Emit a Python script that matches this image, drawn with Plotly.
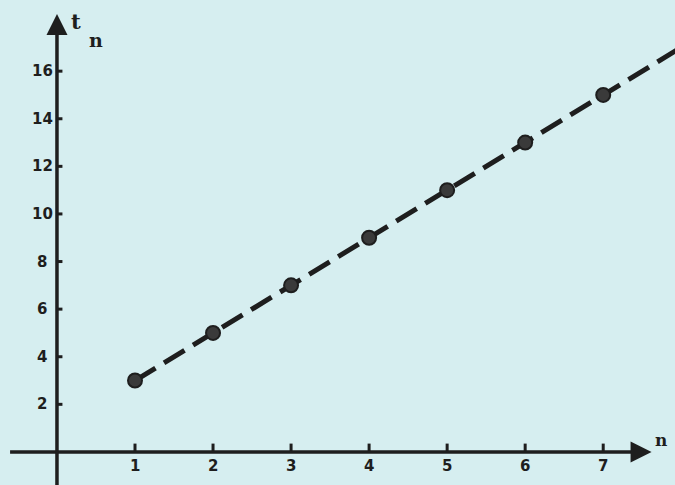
import plotly.graph_objects as go

n_values = [1, 2, 3, 4, 5, 6, 7]
t_values = [3, 5, 7, 9, 11, 13, 15]
x_ticks = [1, 2, 3, 4, 5, 6, 7]
y_ticks = [2, 4, 6, 8, 10, 12, 14, 16]
line_n = [1, 8]
line_t = [3, 17]

ink = "#1e1e1e"
bg = "#d6eef0"

fig = go.Figure()

fig.add_trace(go.Scatter(x=line_n, y=line_t, mode="lines",
                         line=dict(color=ink, width=5, dash="24px,10px"),
                         hoverinfo="skip", showlegend=False))
fig.add_trace(go.Scatter(x=n_values, y=t_values, mode="markers",
                         marker=dict(size=14, color="#3a3a3a",
                                     line=dict(color=ink, width=2)),
                         showlegend=False))

shapes = []
annotations = []
annotations.append(dict(x=7.62, y=0, ax=-0.62, ay=0, xref="x", yref="y",
                        axref="x", ayref="y", showarrow=True, arrowhead=2,
                        arrowsize=1.2, arrowwidth=3.5, arrowcolor=ink, text=""))
annotations.append(dict(x=0, y=18.4, ax=0, ay=-1.5, xref="x", yref="y",
                        axref="x", ayref="y", showarrow=True, arrowhead=2,
                        arrowsize=1.2, arrowwidth=3.5, arrowcolor=ink, text=""))

font = dict(family="DejaVu Sans", size=15, color=ink)
for xv in x_ticks:
    shapes.append(dict(type="line", xref="x", yref="y", x0=xv, x1=xv,
                       y0=0, y1=0.35, line=dict(color=ink, width=3)))
    annotations.append(dict(x=xv, y=-0.6, xref="x", yref="y", text="<b>%d</b>" % xv,
                            showarrow=False, font=font))
for yv in y_ticks:
    shapes.append(dict(type="line", xref="x", yref="y", x0=0, x1=0.07,
                       y0=yv, y1=yv, line=dict(color=ink, width=3)))
    annotations.append(dict(x=-0.19, y=yv, xref="x", yref="y", text="<b>%d</b>" % yv,
                            showarrow=False, font=font))

annotations.append(dict(x=0.24, y=18.1, xref="x", yref="y", text="<b>t</b>",
                        showarrow=False, font=dict(family="DejaVu Serif", size=21, color=ink)))
annotations.append(dict(x=0.5, y=17.3, xref="x", yref="y", text="<b>n</b>",
                        showarrow=False, font=dict(family="DejaVu Serif", size=19, color=ink)))
annotations.append(dict(x=7.74, y=0.5, xref="x", yref="y", text="<b>n</b>",
                        showarrow=False, font=dict(family="DejaVu Serif", size=17, color=ink)))

fig.update_layout(
    width=675, height=485,
    margin=dict(l=0, r=0, t=0, b=0),
    paper_bgcolor=bg, plot_bgcolor=bg,
    xaxis=dict(range=[-0.73, 7.92], visible=False, fixedrange=True),
    yaxis=dict(range=[-1.39, 18.99], visible=False, fixedrange=True),
    shapes=shapes, annotations=annotations,
    showlegend=False,
)

fig.write_html("out.html", config={"displayModeBar": False},
               post_script="document.body.style.margin='0';document.body.style.background='%s';" % bg)
